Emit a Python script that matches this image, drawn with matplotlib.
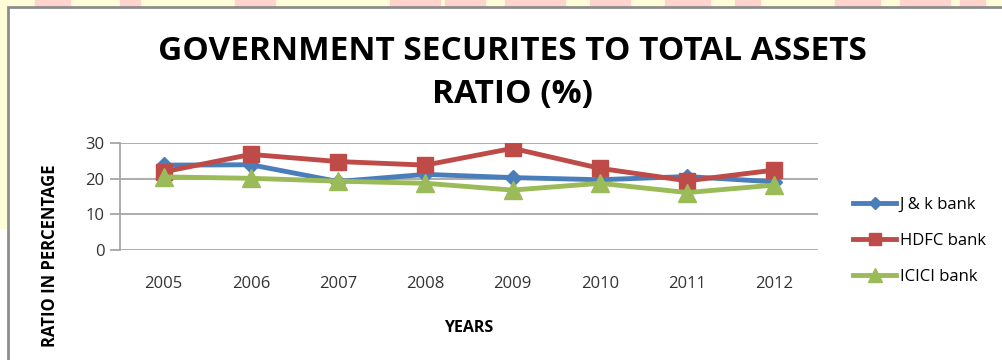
import matplotlib
matplotlib.use('Agg')
import matplotlib.pyplot as plt
from matplotlib.patches import Rectangle

# data
years = ['2005', '2006', '2007', '2008', '2009', '2010', '2011', '2012']
jk_bank = [23.8, 23.9, 19.2, 21.2, 20.3, 19.7, 20.6, 19.1]
hdfc_bank = [21.9, 26.8, 24.8, 23.8, 28.5, 22.9, 19.4, 22.4]
icici_bank = [20.5, 20.1, 19.3, 18.7, 16.8, 18.7, 16.1, 18.2]

plt.rcParams['font.family'] = ['Open Sans', 'DejaVu Sans']

fig = plt.figure(figsize=(10.02, 3.6), dpi=100)
fig.patch.set_facecolor('white')

# slide background strips behind the chart box
W, H = 1002, 360
def px_rect(x0, y0, w, h, color):
    fig.patches.append(Rectangle((x0 / W, 1 - (y0 + h) / H), w / W, h / H,
                                 transform=fig.transFigure, color=color, zorder=0))

px_rect(0, 0, W, 7, '#FFFDD8')
px_rect(0, 0, 8, 228, '#FFFDD8')
for x0, w in [(35, 35), (120, 20), (235, 40), (390, 50), (445, 40), (505, 60),
              (590, 40), (665, 45), (735, 25), (835, 45), (900, 50), (960, 25)]:
    px_rect(x0, 0, w, 7, '#FFD4CC')
# chart border
fig.patches.append(Rectangle((8 / W, -0.1), 1.1, 1 - 7 / H + 0.1, transform=fig.transFigure,
                             facecolor='white', edgecolor='#8C8C8C', lw=2, zorder=1))

ax = fig.add_axes([120 / W, 1 - 250 / H, (818 - 120) / W, (250 - 143) / H])
ax.set_zorder(2)
ax.patch.set_alpha(0)

x = range(len(years))
ax.plot(x, jk_bank, color='#4A7EBB', lw=3.5, marker='D', markersize=8, label='J & k bank', zorder=3)
ax.plot(x, hdfc_bank, color='#BE4B48', lw=3.5, marker='s', markersize=12, label='HDFC bank', zorder=4)
ax.plot(x, icici_bank, color='#9BBB59', lw=3.5, marker='^', markersize=13, label='ICICI bank', zorder=5)

ax.set_xlim(-0.5, len(years) - 0.5)
ax.set_ylim(0, 30)
ax.set_yticks([0, 10, 20, 30])
ax.set_xticks(list(x))
ax.set_xticklabels(years)
ax.grid(axis='y', color='#A6A6A6', lw=1.3)
ax.set_axisbelow(True)
for s in ['top', 'right', 'bottom']:
    ax.spines[s].set_visible(False)
ax.spines['left'].set_color('#A6A6A6')
ax.spines['left'].set_linewidth(1.3)
ax.tick_params(axis='y', length=7, color='#A6A6A6', width=1.3, labelsize=12, pad=4, labelcolor='#333333')
ax.tick_params(axis='x', length=0, labelsize=12, pad=19, labelcolor='#333333')

ax.set_xlabel('YEARS', fontsize=11.5, fontweight='bold', labelpad=20)
ax.set_ylabel('RATIO IN PERCENTAGE', fontsize=12, fontweight='bold')
ax.yaxis.set_label_coords(-0.1, -0.05)
ax.yaxis.label.set_va('center')

fig.text(0.511, 1 - 73 / H, 'GOVERNMENT SECURITES TO TOTAL ASSETS\nRATIO (%)',
         ha='center', va='center', fontsize=24, fontweight='bold', linespacing=1.4)

leg = ax.legend(loc='center left', bbox_to_anchor=(838 / W, 1 - 241 / H), bbox_transform=fig.transFigure,
                frameon=False, fontsize=12, handlelength=2.6, labelspacing=1.2,
                handletextpad=0.2, markerscale=0.75)

plt.savefig('out.png', dpi=100)
